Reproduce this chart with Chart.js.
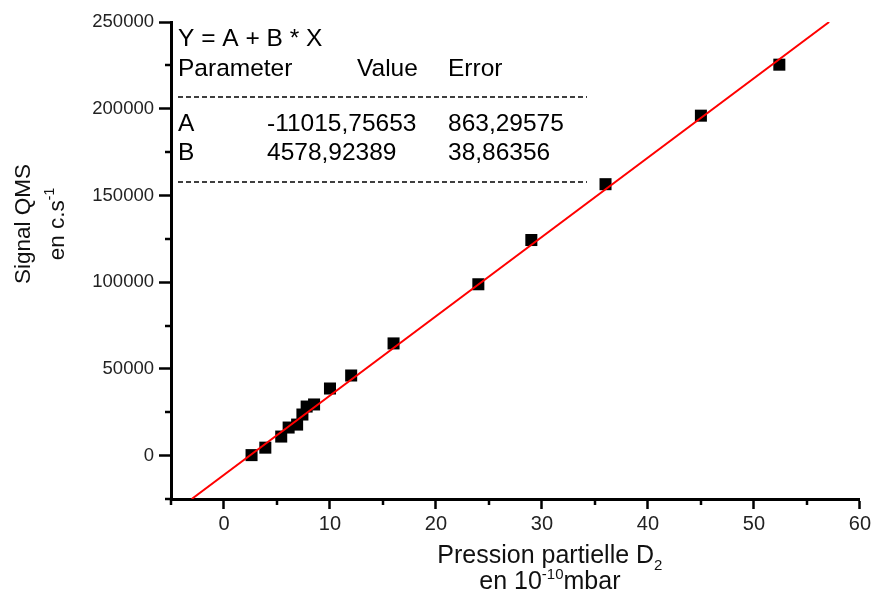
<!DOCTYPE html>
<html>
<head>
<meta charset="utf-8">
<title>Signal QMS vs pression partielle D2</title>
<script src="https://cdn.jsdelivr.net/npm/chart.js@4.4.1/dist/chart.umd.min.js"></script>
<style>
  html, body { margin: 0; padding: 0; background: #fff; }
  #wrap { width: 874px; height: 594px; position: relative; }
</style>
</head>
<body>
<div id="wrap"><canvas id="myChart"></canvas></div>
<script>
var pression = [2.6, 3.9, 5.4, 6.1, 6.9, 7.4, 7.8, 8.5, 10, 12, 16, 24, 29, 36, 45, 52.4];
var signal = [300, 4600, 11000, 16200, 17900, 23700, 28300, 29500, 38700, 46200, 64700, 98800, 124300, 156500, 196000, 225400];

// droite d'ajustement, bornes
var fitX = [-3.05, 57.1];
var fitY = [-25000, 250000];

// tableau des parametres
var fitTitle = 'Y = A + B * X';
var fitHeader = ['Parameter', 'Value', 'Error'];
var fitRows = [
    ['A', '-11015,75653', '863,29575'],
    ['B', '4578,92389', '38,86356']
];

var xTicks = { min: -5, max: 60, step: 5, labelEvery: 10 };
var yTicks = { min: -25000, max: 250000, step: 25000, labelEvery: 50000 };

var FONT = "'Liberation Sans', Arial, sans-serif";

function drawRich(ctx, parts, x, y, align) {
    // parts: [text, font, dy]
    var total = 0;
    parts.forEach(function (p) { ctx.font = p[1]; total += ctx.measureText(p[0]).width; });
    var cx = align === 'center' ? x - total / 2 : x;
    parts.forEach(function (p) {
        ctx.font = p[1];
        ctx.fillText(p[0], cx, y + (p[2] || 0));
        cx += ctx.measureText(p[0]).width;
    });
}

var decorations = {
    id: 'decorations',
    afterDraw: function (chart) {
        var ctx = chart.ctx;
        var area = chart.chartArea;
        var xs = chart.scales.x, ys = chart.scales.y;
        ctx.save();

        // petites graduations
        ctx.strokeStyle = '#000';
        ctx.lineWidth = 2.5;
        xs.ticks.forEach(function (t) {
            if (t.value % xTicks.labelEvery !== 0) {
                var px = Math.round(xs.getPixelForValue(t.value));
                ctx.beginPath(); ctx.moveTo(px, area.bottom); ctx.lineTo(px, area.bottom + 6); ctx.stroke();
            }
        });
        ys.ticks.forEach(function (t) {
            if (t.value % yTicks.labelEvery !== 0) {
                var py = Math.round(ys.getPixelForValue(t.value));
                ctx.beginPath(); ctx.moveTo(area.left - 6, py); ctx.lineTo(area.left, py); ctx.stroke();
            }
        });

        // encadre des parametres
        ctx.fillStyle = '#000';
        ctx.textBaseline = 'alphabetic';
        ctx.textAlign = 'left';
        var f = '24.5px ' + FONT;
        var x0 = area.left + 7;
        ctx.font = f;
        ctx.fillText(fitTitle, x0, area.top + 24);
        var cols = [x0, area.left + 186, area.left + 277];
        fitHeader.forEach(function (h, i) { ctx.fillText(h, cols[i], area.top + 54); });
        fitRows.forEach(function (r, j) {
            var cx = [x0, area.left + 96, area.left + 277];
            r.forEach(function (v, i) { ctx.fillText(v, cx[i], area.top + 109 + j * 29); });
        });
        ctx.setLineDash([5, 3]);
        ctx.lineWidth = 1.5;
        [area.top + 75, area.top + 160].forEach(function (ly) {
            ctx.beginPath(); ctx.moveTo(x0, ly); ctx.lineTo(area.left + 416, ly); ctx.stroke();
        });
        ctx.setLineDash([]);

        // titre de l'axe x
        var tf = '25px ' + FONT, sf = '15px ' + FONT;
        var cxT = area.left + 0.55 * (area.right - area.left);
        ctx.fillStyle = '#111';
        drawRich(ctx, [['Pression partielle D', tf], ['2', sf, 7]], cxT, area.bottom + 64, 'center');
        drawRich(ctx, [['en 10', tf], ['-10', sf, -10], ['mbar', tf]], cxT, area.bottom + 90, 'center');

        // titre de l'axe y
        var cyT = 224;
        ctx.save();
        ctx.translate(30, cyT);
        ctx.rotate(-Math.PI / 2);
        drawRich(ctx, [['Signal QMS', '22.5px ' + FONT]], 0, 0, 'center');
        ctx.restore();
        ctx.save();
        ctx.translate(64, cyT);
        ctx.rotate(-Math.PI / 2);
        drawRich(ctx, [['en c.s', '22.5px ' + FONT], ['-1', '14px ' + FONT, -10]], 0, 0, 'center');
        ctx.restore();

        ctx.restore();
    }
};

var ctx = document.getElementById('myChart').getContext('2d');

var points = pression.map(function (p, i) { return { x: p, y: signal[i] }; });
var fitLine = fitX.map(function (p, i) { return { x: p, y: fitY[i] }; });

var myChart = new Chart(ctx, {
    type: 'scatter',
    data: {
        datasets: [
            {
                label: 'Ajustement',
                data: fitLine,
                showLine: true,
                borderColor: '#ff0000',
                borderWidth: 2,
                pointRadius: 0,
                order: 0
            },
            {
                label: 'Mesures',
                data: points,
                pointStyle: 'rect',
                pointRadius: 8.5,
                pointBackgroundColor: '#000',
                pointBorderColor: '#000',
                pointBorderWidth: 0,
                order: 1
            }
        ]
    },
    options: {
        responsive: true,
        maintainAspectRatio: false,
        animation: false,
        layout: {
            padding: { left: 0, right: 12, top: 22, bottom: 0 }
        },
        plugins: {
            legend: { display: false },
            tooltip: { enabled: false }
        },
        scales: {
            x: {
                type: 'linear',
                min: xTicks.min,
                max: xTicks.max,
                afterFit: function (s) { s.height = 95; },
                border: { display: true, color: '#000', width: 3 },
                grid: {
                    drawOnChartArea: false,
                    drawTicks: true,
                    tickLength: 10,
                    tickWidth: 2.5,
                    tickColor: function (c) {
                        return c.tick && c.tick.value % xTicks.labelEvery === 0 ? '#000' : 'rgba(0,0,0,0)';
                    }
                },
                ticks: {
                    stepSize: xTicks.step,
                    autoSkip: false,
                    maxRotation: 0,
                    padding: 3,
                    color: '#222',
                    font: { family: FONT, size: 20 },
                    callback: function (v) { return v % xTicks.labelEvery === 0 ? String(v) : ''; }
                }
            },
            y: {
                type: 'linear',
                min: yTicks.min,
                max: yTicks.max,
                afterFit: function (s) { s.width = 171; },
                border: { display: true, color: '#000', width: 3 },
                grid: {
                    drawOnChartArea: false,
                    drawTicks: true,
                    tickLength: 12,
                    tickWidth: 2.5,
                    tickColor: function (c) {
                        return c.tick && c.tick.value % yTicks.labelEvery === 0 ? '#000' : 'rgba(0,0,0,0)';
                    }
                },
                ticks: {
                    stepSize: yTicks.step,
                    autoSkip: false,
                    padding: 5,
                    color: '#222',
                    font: { family: FONT, size: 18.5 },
                    callback: function (v) { return v % yTicks.labelEvery === 0 ? String(v) : ''; }
                }
            }
        }
    },
    plugins: [decorations]
});
</script>
</body>
</html>
